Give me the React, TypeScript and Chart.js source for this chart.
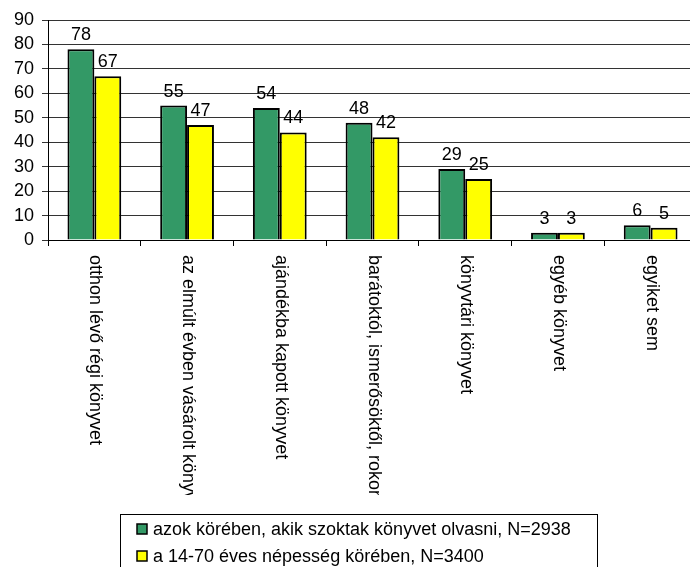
import React, { useEffect, useRef } from "react";
import { Chart, registerables } from "chart.js";

Chart.register(...registerables);

const categories = [
  "otthon lévő régi könyvet",
  "az elmúlt évben vásárolt könyvet",
  "ajándékba kapott könyvet",
  "barátoktól, ismerősöktől, rokonoktól kölcsönkapott könyvet",
  "könyvtári könyvet",
  "egyéb könyvet",
  "egyiket sem",
];
const readersValues = [78, 55, 54, 48, 29, 3, 6];
const populationValues = [67, 47, 44, 42, 25, 3, 5];
const seriesNames = [
  "azok körében, akik szoktak könyvet olvasni, N=2938",
  "a 14-70 éves népesség körében, N=3400",
];
const seriesColors = ["#339966", "#FFFF00"];

const FONT = '"Liberation Sans", Arial, sans-serif';
const FS = 18;

const customPlugin = {
  id: "custom",
  afterDatasetsDraw(chart: any) {
    const ctx = chart.ctx;
    ctx.save();
    ctx.font = `${FS}px ${FONT}`;
    ctx.fillStyle = "#000";
    ctx.textAlign = "center";
    ctx.textBaseline = "alphabetic";
    chart.data.datasets.forEach((ds: any, di: number) => {
      const meta = chart.getDatasetMeta(di);
      meta.data.forEach((el: any, i: number) => {
        ctx.fillText(String(ds.data[i]), el.x, el.y - 9);
      });
    });
    ctx.restore();
  },
  afterDraw(chart: any) {
    const ctx = chart.ctx;
    const xScale = chart.scales.x;
    ctx.save();
    ctx.beginPath();
    ctx.rect(0, 250, chart.width, 245);
    ctx.clip();
    ctx.font = `${FS}px ${FONT}`;
    ctx.fillStyle = "#000";
    ctx.textAlign = "left";
    ctx.textBaseline = "middle";
    chart.data.labels.forEach((lab: string, i: number) => {
      const x = xScale.getPixelForValue(i) + 1;
      ctx.save();
      ctx.translate(x, 255);
      ctx.rotate(Math.PI / 2);
      ctx.fillText(lab, 0, 0);
      ctx.restore();
    });
    ctx.restore();

    ctx.save();
    ctx.strokeStyle = "#000";
    ctx.lineWidth = 1;
    ctx.strokeRect(120.5, 514.5, 477, 70);
    ctx.font = `${FS}px ${FONT}`;
    ctx.textAlign = "left";
    ctx.textBaseline = "middle";
    const rows = [529, 556];
    seriesNames.forEach((name, i) => {
      ctx.fillStyle = seriesColors[i];
      ctx.fillRect(137, rows[i] - 5, 10, 10);
      ctx.lineWidth = 1.5;
      ctx.strokeStyle = "#000";
      ctx.strokeRect(137, rows[i] - 5, 10, 10);
      ctx.fillStyle = "#000";
      ctx.fillText(name, 153, rows[i] + 1);
    });
    ctx.restore();
  },
};

export default function App() {
  const ref = useRef<HTMLCanvasElement | null>(null);
  useEffect(() => {
    document.body.style.margin = "0";
    document.body.style.overflow = "hidden";
    if (!ref.current) return;
    const chart = new Chart(ref.current, {
      type: "bar",
      data: {
        labels: categories,
        datasets: [
          {
            label: seriesNames[0],
            data: readersValues,
            backgroundColor: seriesColors[0],
            borderColor: "#000",
            borderWidth: 2,
          },
          {
            label: seriesNames[1],
            data: populationValues,
            backgroundColor: seriesColors[1],
            borderColor: "#000",
            borderWidth: 2,
          },
        ],
      },
      options: {
        responsive: false,
        animation: false,
        devicePixelRatio: 1,
        layout: { padding: { top: 20, left: 0, right: 0, bottom: 0 } },
        datasets: { bar: { categoryPercentage: 0.58, barPercentage: 1 } },
        plugins: { legend: { display: false }, tooltip: { enabled: false } },
        scales: {
          x: {
            offset: true,
            ticks: { display: false },
            grid: {
              display: true,
              offset: true,
              drawOnChartArea: false,
              drawTicks: true,
              tickLength: 6,
              color: "#000",
            },
            border: { display: true, color: "#000", width: 1 },
            afterFit: (s: any) => {
              s.height = 327;
            },
          },
          y: {
            min: 0,
            max: 90,
            ticks: {
              stepSize: 10,
              autoSkip: false,
              color: "#000",
              padding: 8,
              font: { family: FONT, size: FS },
            },
            grid: {
              color: "#333",
              drawTicks: true,
              tickLength: 6,
            },
            border: { display: true, color: "#000", width: 1 },
            afterFit: (s: any) => {
              s.width = 48;
            },
          },
        },
      },
      plugins: [customPlugin],
    });
    return () => chart.destroy();
  }, []);
  return (
    <div style={{ width: 690, height: 567, overflow: "hidden", background: "#fff" }}>
      <canvas ref={ref} width={697} height={567} style={{ display: "block" }} />
    </div>
  );
}
